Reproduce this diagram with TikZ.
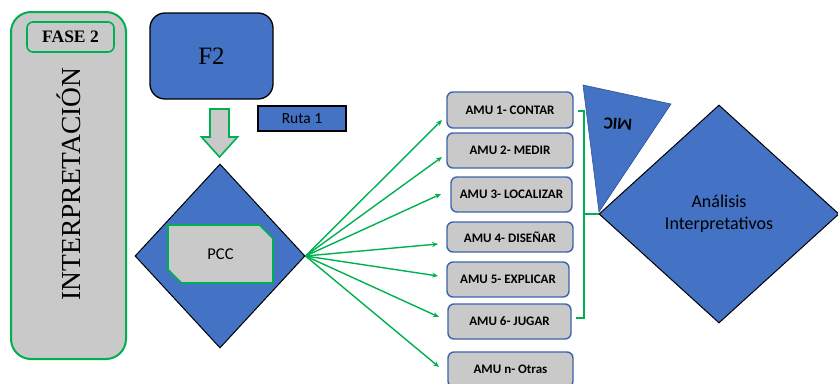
\documentclass[tikz,border=0pt]{standalone}
\usepackage{fontspec}
\setmainfont{Liberation Serif}
\setsansfont{Carlito}
\usetikzlibrary{shapes.geometric,shapes.misc,arrows.meta,calc}
\definecolor{boxblue}{HTML}{4472C4}
\definecolor{linegreen}{HTML}{00B050}
\definecolor{panelgray}{HTML}{C9C9C9}
\definecolor{amuedge}{HTML}{3B64AD}
\definecolor{triedge}{HTML}{2F5597}

\begin{document}
\begin{tikzpicture}[x=1pt,y=-1pt,
  greenbox/.style={draw=linegreen, line width=2pt, fill=panelgray, inner sep=0pt},
  bluebox/.style={draw=black, line width=1.3pt, fill=boxblue, inner sep=0pt},
  bluediamond/.style={diamond, draw=black, line width=1pt, fill=boxblue, inner sep=0pt},
  amu/.style={draw=amuedge, line width=1.4pt, fill=panelgray, rounded corners=6pt,
    inner sep=0pt, font=\sffamily\bfseries\fontsize{13}{15}\selectfont},
  link/.style={draw=linegreen, line width=1.4pt, -{Stealth[length=6pt,width=5pt]}},
  bracket/.style={draw=linegreen, line width=1.6pt}]
\useasboundingbox (0,0) rectangle (838,383);

% phase panel on the left
\node[greenbox, rounded corners=20pt, minimum width=115pt, minimum height=347pt] (panel) at (68.5,185.5) {};
\node[greenbox, line width=1.6pt, rounded corners=6pt, minimum width=87pt, minimum height=30pt,
  font=\bfseries\fontsize{17.5}{20}\selectfont] (fase) at (70.5,37) {FASE 2};
\node[rotate=90, anchor=base, inner sep=0pt, font=\fontsize{27.5}{30}\selectfont] (interp) at (80,184) {INTERPRETACIÓN};

% F2 block and route label
\node[bluebox, rounded corners=15pt, minimum width=123pt, minimum height=86pt,
  font=\fontsize{25}{28}\selectfont] (f2) at (211.5,56) {F2};
\node[bluebox, minimum width=88pt, minimum height=25pt,
  font=\sffamily\fontsize{15.5}{18}\selectfont] (ruta) at (302,118.5) {Ruta 1};

% hollow down arrow
\coordinate (dn) at (219.5,109);
\draw[draw=linegreen, line width=1.6pt, fill=panelgray, line join=miter]
  ($(dn)+(-9.5,0)$) -- ($(dn)+(9.5,0)$) -- ($(dn)+(9.5,28)$) -- ($(dn)+(18,28)$)
  -- ($(dn)+(0,48)$) -- ($(dn)+(-18,28)$) -- ($(dn)+(-9.5,28)$) -- cycle;

% PCC decision
\node[bluediamond, minimum width=170pt, minimum height=184pt] (pccd) at (220,256) {};
\node[chamfered rectangle, chamfered rectangle corners={north east,south west},
  chamfered rectangle xsep=8pt, chamfered rectangle ysep=8pt,
  draw=linegreen, line width=1.6pt, fill=panelgray, inner sep=0pt,
  minimum width=105pt, minimum height=58pt,
  font=\sffamily\fontsize{16.5}{19}\selectfont] (pcc) at (220.5,254) {PCC};

% AMU list
\node[amu, minimum width=126pt, minimum height=36pt] (amu1) at (510,110) {AMU 1- CONTAR};
\node[amu, minimum width=126pt, minimum height=35pt] (amu2) at (510,150.5) {AMU 2- MEDIR};
\node[amu, minimum width=121pt, minimum height=35pt] (amu3) at (511.5,194.5) {AMU 3- LOCALIZAR};
\node[amu, minimum width=126pt, minimum height=30pt] (amu4) at (510,237) {AMU 4- DISEÑAR};
\node[amu, minimum width=122pt, minimum height=35pt] (amu5) at (508,279.5) {AMU 5- EXPLICAR};
\node[amu, minimum width=123pt, minimum height=35pt] (amu6) at (509.5,321.5) {AMU 6- JUGAR};
\node[amu, minimum width=125pt, minimum height=35pt] (amun) at (510.5,369.5) {AMU n- Otras};

% arrow ends in front of the list
\coordinate (e1) at (442,120);
\coordinate (e2) at (442,157);
\coordinate (e3) at (441,194);
\coordinate (e4) at (438,244);
\coordinate (e5) at (438,276);
\coordinate (e6) at (439,317);
\coordinate (e7) at (439,367);
\foreach \e in {e1,e2,e3,e4,e5,e6,e7}
  \draw[link] (pccd.east) -- (\e);

% analysis diamond and MIC wedge
\node[bluediamond, minimum width=240pt, minimum height=218pt, align=center,
  font=\sffamily\fontsize{18}{22}\selectfont] (an) at (719,214) {Análisis\\Interpretativos};
\coordinate (m1) at (583,85);
\coordinate (m2) at (671,104);
\coordinate (m3) at (599,212);
\draw[draw=triedge, line width=0.6pt, fill=boxblue] (m1) -- (m2) -- (m3) -- cycle;
\node[rotate=175, inner sep=0pt, font=\sffamily\bfseries\fontsize{17}{20}\selectfont] (mic) at (618,124) {MIC};

% bracket grouping the list
\draw[bracket] ($(amu1.east)+(4,1)$) -- ++(6,0) |- ($(amu6.east)+(4,-3.5)$);
\draw[bracket] (583,214) -- (an.west);
\end{tikzpicture}
\end{document}
